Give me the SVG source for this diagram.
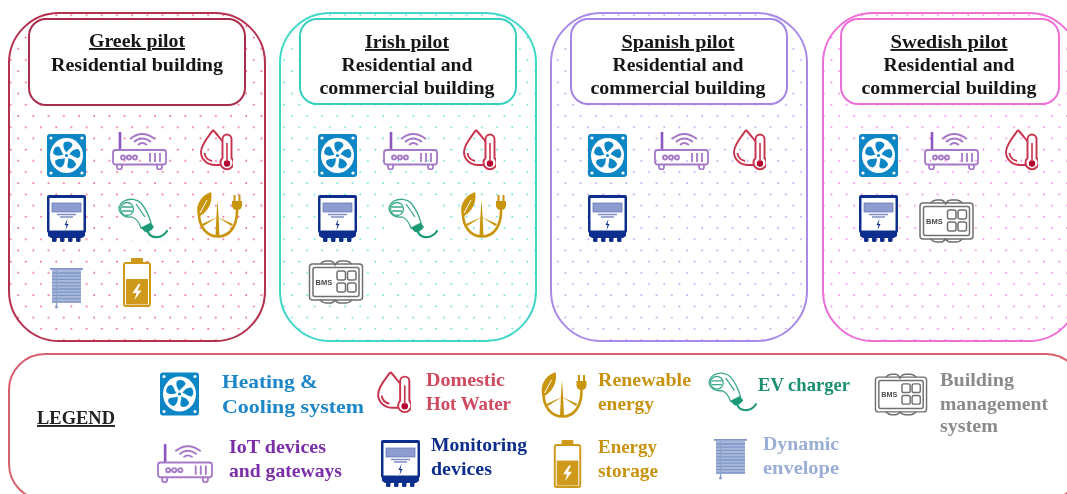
<svg xmlns="http://www.w3.org/2000/svg" xmlns:xlink="http://www.w3.org/1999/xlink" width="1067" height="494" viewBox="0 0 1067 494">
<style>
text{font-family:"Liberation Serif","DejaVu Serif",serif;font-weight:700;font-size:19px}
.h{fill:#141414;text-anchor:middle}
.t{text-decoration:underline}
.panel{stroke-width:2}
.head{fill:#fff;stroke-width:2}
.gs{fill:none;stroke:#a678c8;stroke-width:1.8}
.rs{fill:none;stroke:#c8324e;stroke-width:1.9}
.es{fill:none;stroke:#3aa98c;stroke-width:1.3}
.ys{fill:none;stroke:#c9950f;stroke-width:2.6;stroke-linecap:round}
.bs{fill:none;stroke:#6f6f6f;stroke-width:1.5}
</style>
<defs>
<pattern id="dr" width="15.2" height="22.4" patternUnits="userSpaceOnUse"><circle cx="3" cy="4" r=".95" fill="#ef4f78"/><circle cx="10.6" cy="15.2" r=".95" fill="#ef4f78"/></pattern>
<pattern id="dt" width="15.2" height="22.4" patternUnits="userSpaceOnUse"><circle cx="3" cy="4" r=".95" fill="#4fdfd6"/><circle cx="10.6" cy="15.2" r=".95" fill="#4fdfd6"/></pattern>
<pattern id="dp" width="15.2" height="22.4" patternUnits="userSpaceOnUse"><circle cx="3" cy="4" r=".95" fill="#b592ea"/><circle cx="10.6" cy="15.2" r=".95" fill="#b592ea"/></pattern>
<pattern id="dm" width="15.2" height="22.4" patternUnits="userSpaceOnUse"><circle cx="3" cy="4" r=".95" fill="#f275e2"/><circle cx="10.6" cy="15.2" r=".95" fill="#f275e2"/></pattern>
<filter id="soft" x="-5%" y="-5%" width="110%" height="110%"><feGaussianBlur stdDeviation="0.45"/></filter>
<path id="blade" d="M19.500 18.500C17 15.500 15.500 12 17 8.500C20.500 6.500 25 8 25.500 11C25 14 21.500 15 19.500 18.500Z" fill="#0b86c6"/>
<symbol id="fan" viewBox="0 0 39 43">
<rect width="39" height="43" rx="3" fill="#0b86c6"/>
<ellipse cx="19.500" cy="21.500" rx="16.500" ry="17.500" fill="#fff"/>
<use xlink:href="#blade"/>
<use xlink:href="#blade" transform="rotate(72 19.500 21.500)"/>
<use xlink:href="#blade" transform="rotate(144 19.500 21.500)"/>
<use xlink:href="#blade" transform="rotate(216 19.500 21.500)"/>
<use xlink:href="#blade" transform="rotate(288 19.500 21.500)"/>
<circle cx="19.500" cy="21.500" r="1.600" fill="#0b86c6"/>
<g fill="#fff"><circle cx="4" cy="4" r="1.600"/><circle cx="35" cy="4" r="1.600"/><circle cx="4" cy="39" r="1.600"/><circle cx="35" cy="39" r="1.600"/></g>
</symbol>
<symbol id="router" viewBox="0 0 55 39">
<path d="M8 19V1" stroke="#8d55c0" stroke-width="2.600" fill="none"/>
<path class="gs" d="M18 8Q30 -2 43 8M22 11Q30 4 39 11M26 14Q30 10 35 14"/>
<rect class="gs" x="1" y="19" width="53" height="14.500" rx="2.500"/>
<path class="gs" d="M5 33.500v2.500a2 2 0 0 0 5 0V33.500M45 33.500v2.500a2 2 0 0 0 5 0V33.500"/>
<g class="gs"><circle cx="11" cy="26.500" r="2"/><circle cx="17" cy="26.500" r="2"/><circle cx="23" cy="26.500" r="2"/><path d="M14 26.500H15M20 26.500H21M38 22v9M43 22v9M48 22v9"/></g>
</symbol>
<symbol id="drop" viewBox="0 0 33 43">
<path class="rs" d="M13 1C9 7 1 15 1 23C1 31 8 36 15 36H21M13 1C16 4 19 8 23 13M4.500 24C5 28 8 31 12 32"/>
<path d="M22.500 29V10a4.500 4.500 0 0 1 9 0V29a6.500 6.500 0 1 1-9 0Z" fill="#fff" stroke="#c8324e" stroke-width="1.900"/>
<circle cx="27" cy="34.500" r="3.200" fill="#b3002d"/>
<path d="M27 14V33" stroke="#c8324e" stroke-width="1.600"/>
</symbol>
<symbol id="meter" viewBox="0 0 39 48">
<rect width="39" height="38" y="0" rx="2" fill="#0f2f8c"/>
<rect x="2.500" y="3" width="34" height="32.500" fill="#fff"/>
<rect x="5" y="8" width="29" height="9" fill="#8e9ccf" stroke="#5c6fb5" stroke-width=".7"/>
<path d="M10 19.500H29M13 22H26" stroke="#7f8fc6" stroke-width="1.500"/>
<path d="M20.500 24L17.500 30H19.500L18.500 35L21.500 29H19.500Z" fill="#0f2f8c"/>
<path d="M1 37H38V41L35 43H4L1 41Z" fill="#0f2f8c"/>
<g fill="#0f2f8c"><rect x="5" y="42" width="4.500" height="5" rx="1.500"/><rect x="13" y="42" width="4.500" height="5" rx="1.500"/><rect x="21" y="42" width="4.500" height="5" rx="1.500"/><rect x="29" y="42" width="4.500" height="5" rx="1.500"/></g>
</symbol>
<symbol id="ev" viewBox="0 0 50 42">
<rect width="50" height="42" fill="#fff"/>
<path class="es" d="M6 3C12 0 19 1 23 5C27 10 31 17 33 25L23 30C21 24 17 20 14 19C8 20 2 17 1 11C1 8 3 5 6 3Z"/>
<circle class="es" cx="9" cy="11" r="6.500" fill="#dff2ec"/>
<path class="es" d="M3.500 9H14.500M4 13H14M18 6L27 19" stroke-width="1"/>
<path d="M23 30L33 25L36 29C33 33 30 35 27 34Z" fill="#1f9a78"/>
<path d="M30 34C33 41 44 41 49 33" fill="none" stroke="#1f9a78" stroke-width="2.200" stroke-linecap="round"/>
</symbol>
<symbol id="ren" viewBox="0 0 46 46">
<path class="ys" d="M3 22C3 35 11 44.500 22 44.500C34 44.500 41 34 41 19"/>
<path d="M2 24C-1 14 4 4 15 0C17 9 13 19 4 24Z" fill="#c9950f"/>
<path d="M4 21L11 8" stroke="#fff" stroke-width="1"/>
<path d="M21.500 8L22.600 24L23.500 44H19.500L20.400 24Z" fill="#c9950f"/>
<path d="M21.500 25L6 32L7.500 34ZM21.500 25L37 32L35.500 34Z" fill="#c9950f"/>
<path d="M36 9H46V13C46 16 44 18 41 18C38 18 36 16 36 13Z" fill="#c9950f"/>
<path d="M38.500 3V9M43.500 3V9" stroke="#c9950f" stroke-width="2"/>
</symbol>
<symbol id="blind" viewBox="0 0 33 41">
<rect x="0" y="0" width="33" height="1.800" fill="#7e96c6"/>
<rect x="2" y="2" width="29" height="33" fill="#a9b8da"/>
<path d="M2 5H31M2 8.200H31M2 11.400H31M2 14.600H31M2 17.800H31M2 21H31M2 24.200H31M2 27.400H31M2 30.600H31M2 33.800H31" stroke="#7e96c6" stroke-width="1.300"/>
<path d="M6.500 2V39" stroke="#8ca0cb" stroke-width="1.300"/>
<circle cx="6.500" cy="39" r="1.500" fill="#8ca0cb"/>
</symbol>
<symbol id="bat" viewBox="0 0 28 49">
<rect x="8" y="0" width="12" height="5" rx="1" fill="#cf9a1c"/>
<rect x="1" y="5" width="26" height="43" rx="2" fill="#fff" stroke="#cf9a1c" stroke-width="2"/>
<rect x="3" y="21" width="22" height="25.500" fill="#cf9a1c"/>
<path d="M15.500 26L9.500 35H13.500L11.500 42L18.500 32.500H14.500L17.500 26Z" fill="#fff"/>
</symbol>
<symbol id="bms" viewBox="0 0 56 44">
<rect width="56" height="44" fill="#fff"/>
<rect class="bs" x="1.500" y="4" width="53" height="36" rx="3"/>
<rect class="bs" x="5" y="7.500" width="46" height="29" rx="2"/>
<path class="bs" d="M12 4Q15 1 18 1H22Q25 1 27 5Q29 1 33 1H38Q41 1 44 4M12 40Q15 43 18 43H22Q25 43 27 40Q29 43 33 43H38Q41 43 44 40"/>
<g class="bs"><rect x="29" y="11" width="8.500" height="9" rx="2"/><rect x="39.500" y="11" width="8.500" height="9" rx="2"/><rect x="29" y="23" width="8.500" height="9" rx="2"/><rect x="39.500" y="23" width="8.500" height="9" rx="2"/></g>
<text x="7.500" y="25" style="font-family:'Liberation Sans',sans-serif;font-size:7.500px;fill:#4a4a4a">BMS</text>
</symbol>
</defs>
<rect width="1067" height="494" fill="#fff"/>
<g filter="url(#soft)">
<g id="greek-pilot">
<rect class="panel" x="9" y="13" width="256" height="328" rx="50" fill="url(#dr)" stroke="#b5304f"/>
<rect class="head" x="29" y="19" width="216" height="86" rx="17" stroke="#a92f4c"/>
<text class="h t" x="137" y="47" textLength="96" lengthAdjust="spacingAndGlyphs">Greek pilot</text>
<text class="h" x="137" y="71" textLength="172" lengthAdjust="spacingAndGlyphs">Residential building</text>
<use xlink:href="#fan" x="47" y="134" width="39" height="43"/>
<use xlink:href="#router" x="112" y="131" width="55" height="39"/>
<use xlink:href="#drop" x="200" y="129" width="33" height="43"/>
<use xlink:href="#meter" x="47" y="195" width="39" height="48"/>
<use xlink:href="#ev" x="118" y="198" width="50" height="42"/>
<use xlink:href="#ren" x="196" y="192" width="46" height="46"/>
<use xlink:href="#blind" x="50" y="268" width="33" height="41"/>
<use xlink:href="#bat" x="123" y="258" width="28" height="49"/>
</g>
<g id="irish-pilot">
<rect class="panel" x="280" y="13" width="256" height="328" rx="50" fill="url(#dt)" stroke="#3fd6c8"/>
<rect class="head" x="300" y="19" width="216" height="85" rx="17" stroke="#38cfc0"/>
<text class="h t" x="407" y="48" textLength="84" lengthAdjust="spacingAndGlyphs">Irish pilot</text>
<text class="h" x="407" y="71" textLength="131" lengthAdjust="spacingAndGlyphs">Residential and</text>
<text class="h" x="407" y="94" textLength="175" lengthAdjust="spacingAndGlyphs">commercial building</text>
<use xlink:href="#fan" x="318" y="134" width="39" height="43"/>
<use xlink:href="#router" x="383" y="131" width="55" height="39"/>
<use xlink:href="#drop" x="463" y="129" width="33" height="43"/>
<use xlink:href="#meter" x="318" y="195" width="39" height="48"/>
<use xlink:href="#ev" x="388" y="198" width="50" height="42"/>
<use xlink:href="#ren" x="460" y="192" width="46" height="46"/>
<use xlink:href="#bms" x="308" y="260" width="56" height="44"/>
</g>
<g id="spanish-pilot">
<rect class="panel" x="551" y="13" width="256" height="328" rx="50" fill="url(#dp)" stroke="#a98ae8"/>
<rect class="head" x="571" y="19" width="216" height="85" rx="17" stroke="#a585e6"/>
<text class="h t" x="678" y="48" textLength="113" lengthAdjust="spacingAndGlyphs">Spanish pilot</text>
<text class="h" x="678" y="71" textLength="131" lengthAdjust="spacingAndGlyphs">Residential and</text>
<text class="h" x="678" y="94" textLength="175" lengthAdjust="spacingAndGlyphs">commercial building</text>
<use xlink:href="#fan" x="588" y="134" width="39" height="43"/>
<use xlink:href="#router" x="654" y="131" width="55" height="39"/>
<use xlink:href="#drop" x="733" y="129" width="33" height="43"/>
<use xlink:href="#meter" x="588" y="195" width="39" height="48"/>
</g>
<g id="swedish-pilot">
<rect class="panel" x="823" y="13" width="256" height="328" rx="50" fill="url(#dm)" stroke="#ee6fd6"/>
<rect class="head" x="841" y="19" width="218" height="85" rx="17" stroke="#ee6fd6"/>
<text class="h t" x="949" y="48" textLength="117" lengthAdjust="spacingAndGlyphs">Swedish pilot</text>
<text class="h" x="949" y="71" textLength="131" lengthAdjust="spacingAndGlyphs">Residential and</text>
<text class="h" x="949" y="94" textLength="175" lengthAdjust="spacingAndGlyphs">commercial building</text>
<use xlink:href="#fan" x="859" y="134" width="39" height="43"/>
<use xlink:href="#router" x="924" y="131" width="55" height="39"/>
<use xlink:href="#drop" x="1005" y="129" width="33" height="43"/>
<use xlink:href="#meter" x="859" y="195" width="39" height="48"/>
<use xlink:href="#bms" x="918" y="199" width="57" height="44"/>
</g>
<g id="legend">
<rect x="9" y="354" width="1073" height="146" rx="36" fill="#fff" stroke="#d9606f" stroke-width="2"/>
<text class="t" x="37" y="424" textLength="78" lengthAdjust="spacingAndGlyphs" fill="#222">LEGEND</text>
<g id="legend-heating"><use xlink:href="#fan" x="160" y="372" width="39" height="44"/>
<text x="222" y="388" fill="#1a86c6" textLength="96" lengthAdjust="spacingAndGlyphs">Heating &amp;</text><text x="222" y="413" fill="#1a86c6" textLength="142" lengthAdjust="spacingAndGlyphs">Cooling system</text></g>
<g id="legend-hot-water"><use xlink:href="#drop" x="377" y="371" width="34" height="44"/>
<text x="426" y="386" fill="#cf4a60" textLength="79" lengthAdjust="spacingAndGlyphs">Domestic</text><text x="426" y="410" fill="#cf4a60" textLength="85" lengthAdjust="spacingAndGlyphs">Hot Water</text></g>
<g id="legend-renewable"><use xlink:href="#ren" x="540" y="372" width="47" height="46"/>
<text x="598" y="386" fill="#c9920f" textLength="93" lengthAdjust="spacingAndGlyphs">Renewable</text><text x="598" y="410" fill="#c9920f" textLength="56" lengthAdjust="spacingAndGlyphs">energy</text></g>
<g id="legend-ev"><use xlink:href="#ev" x="707" y="372" width="51" height="41"/>
<text x="758" y="391" fill="#1a8f6f" textLength="92" lengthAdjust="spacingAndGlyphs">EV charger</text></g>
<g id="legend-bms"><use xlink:href="#bms" x="874" y="373" width="54" height="43"/>
<text x="940" y="386" fill="#8b8b8b" textLength="74" lengthAdjust="spacingAndGlyphs">Building</text><text x="940" y="410" fill="#8b8b8b" textLength="108" lengthAdjust="spacingAndGlyphs">management</text><text x="940" y="432" fill="#8b8b8b" textLength="58" lengthAdjust="spacingAndGlyphs">system</text></g>
<g id="legend-iot"><use xlink:href="#router" x="157" y="443" width="56" height="40"/>
<text x="229" y="453" fill="#7b2fa8" textLength="97" lengthAdjust="spacingAndGlyphs">IoT devices</text><text x="229" y="477" fill="#7b2fa8" textLength="113" lengthAdjust="spacingAndGlyphs">and gateways</text></g>
<g id="legend-monitoring"><use xlink:href="#meter" x="380" y="440" width="41" height="48"/>
<text x="431" y="451" fill="#0f2f8c" textLength="96" lengthAdjust="spacingAndGlyphs">Monitoring</text><text x="431" y="475" fill="#0f2f8c" textLength="61" lengthAdjust="spacingAndGlyphs">devices</text></g>
<g id="legend-storage"><use xlink:href="#bat" x="553" y="440" width="29" height="48"/>
<text x="598" y="453" fill="#c9920f" textLength="59" lengthAdjust="spacingAndGlyphs">Energy</text><text x="598" y="477" fill="#c9920f" textLength="60" lengthAdjust="spacingAndGlyphs">storage</text></g>
<g id="legend-envelope"><use xlink:href="#blind" x="714" y="439" width="33" height="41"/>
<text x="763" y="450" fill="#9aaed6" textLength="76" lengthAdjust="spacingAndGlyphs">Dynamic</text><text x="763" y="474" fill="#9aaed6" textLength="76" lengthAdjust="spacingAndGlyphs">envelope</text></g>
</g>
</g>
</svg>
